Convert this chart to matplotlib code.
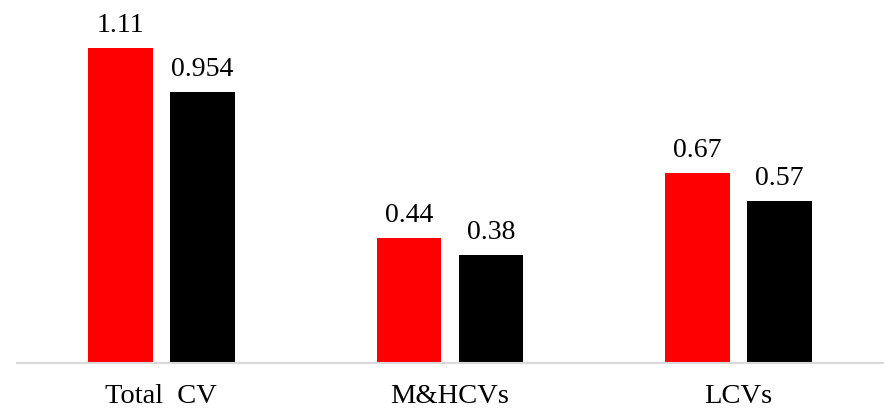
import matplotlib
matplotlib.use("Agg")
import matplotlib.pyplot as plt
import numpy as np

categories = ["Total  CV", "M&HCVs", "LCVs"]
series_a = [1.11, 0.44, 0.67]
series_b = [0.954, 0.38, 0.57]
labels_a = ["1.11", "0.44", "0.67"]
labels_b = ["0.954", "0.38", "0.57"]

plt.rcParams['font.family'] = ['Liberation Serif', 'DejaVu Serif']

W, H = 892, 411
fig = plt.figure(figsize=(W/100, H/100), dpi=100)
ax = fig.add_axes([17/W, (H-363)/H, 866/W, 363/H])

x = np.arange(len(categories))
bw = 0.225
off = 0.142
ax.bar(x - off, series_a, bw, color='#ff0000')
ax.bar(x + off, series_b, bw, color='#000000')

for xs, vals, labs in [(x - off, series_a, labels_a), (x + off, series_b, labels_b)]:
    for xi, v, l in zip(xs, vals, labs):
        ax.annotate(l, (xi, v), xytext=(0, 11.5), textcoords='offset points',
                    ha='center', va='baseline', fontsize=20, color='black')

ax.set_xlim(-0.5, 2.5)
ax.set_ylim(0, 1.279)
ax.set_xticks(x)
ax.set_xticklabels(categories, fontsize=20.5)
ax.tick_params(axis='x', length=0, pad=15)
ax.set_yticks([])
for s in ['top', 'right', 'left']:
    ax.spines[s].set_visible(False)
ax.spines['bottom'].set_color('#d9d9d9')
ax.spines['bottom'].set_linewidth(1.5)

fig.savefig("out.png", dpi=100)
